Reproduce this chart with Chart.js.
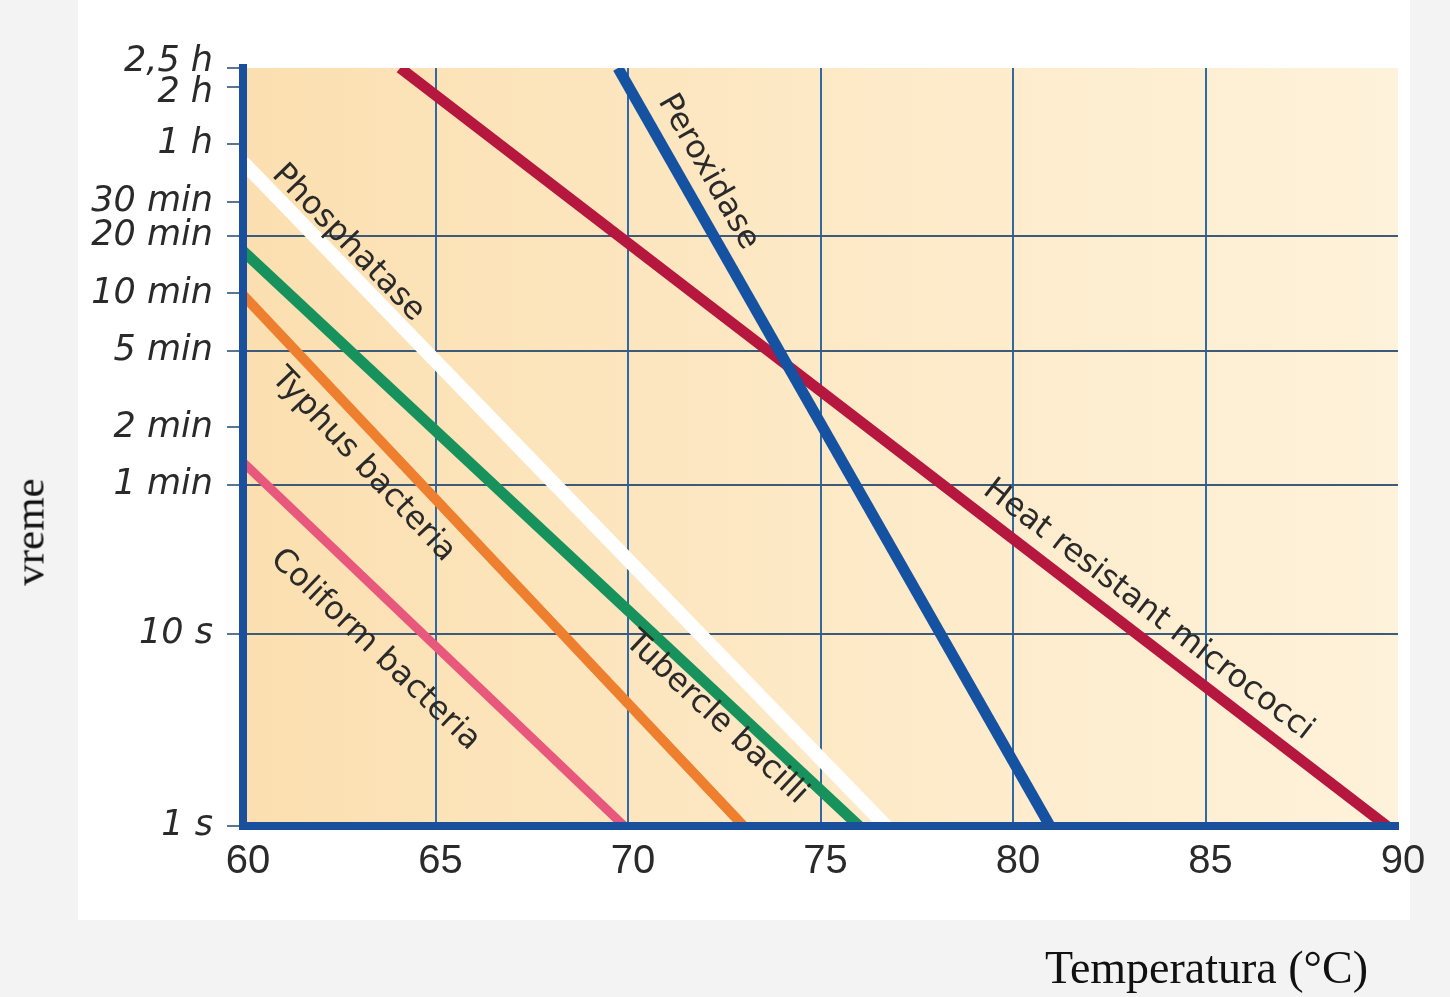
<!DOCTYPE html>
<html><head><meta charset="utf-8">
<script src="https://cdn.jsdelivr.net/npm/chart.js@4.4.0/dist/chart.umd.min.js"></script>
<style>
html,body{margin:0;padding:0;background:#f3f3f3;}
#wrap{position:relative;width:1450px;height:997px;overflow:hidden;}
#panel{position:absolute;left:78px;top:0;width:1332px;height:920px;background:#ffffff;}
#c{position:absolute;left:0;top:0;}
.title{position:absolute;font-family:"Liberation Serif","DejaVu Serif",serif;color:#111;white-space:nowrap;line-height:1;}
#yt{left:29px;top:532px;font-size:43px;transform:translate(-50%,-50%) rotate(-90deg);}
#xt{left:1045px;top:945px;font-size:46px;}
</style></head><body>
<div id="wrap">
<div id="panel"></div>
<canvas id="c" width="1450" height="997"></canvas>
<div class="title" id="yt">vreme</div>
<div class="title" id="xt">Temperatura (°C)</div>
</div>
<script>
// ---- data ----
const tempMin = 60, tempMax = 90, tempStep = 5;
const timeTickValues = [9000, 7200, 3600, 1800, 1200, 600, 300, 120, 60, 10, 1];
const timeTickLabels = ['2,5 h', '2 h', '1 h', '30 min', '20 min', '10 min', '5 min', '2 min', '1 min', '10 s', '1 s'];
const gridTimes = [1200, 300, 60, 10];

const seriesNames = ['Coliform bacteria', 'Typhus bacteria', 'Tubercle bacilli', 'Phosphatase', 'Peroxidase', 'Heat resistant micrococci'];
const coliformTemp = [60, 69.9];   const coliformTime = [79, 1];
const typhusTemp = [60, 73.0];     const typhusTime = [590, 1];
const tubercleTemp = [60, 76.0];   const tubercleTime = [1000, 1];
const phosphataseTemp = [60, 76.7]; const phosphataseTime = [2900, 1];
const peroxidaseTemp = [69.74, 80.96]; const peroxidaseTime = [9000, 1];
const microTemp = [64.08, 89.71];  const microTime = [9000, 1];

// label anchor points (centre of each label, in data units)
const labelTemp = [63.43, 63.12, 72.29, 62.73, 72.08, 83.51];
const labelTime = [8.28, 76.4, 3.66, 1099, 2580, 13.4];

const seriesTemps = [coliformTemp, typhusTemp, tubercleTemp, phosphataseTemp, peroxidaseTemp, microTemp];
const seriesTimes = [coliformTime, typhusTime, tubercleTime, phosphataseTime, peroxidaseTime, microTime];
const seriesColors = ['#e8577c', '#ee7f2e', '#17925c', '#ffffff', '#1652a2', '#b5173f'];
const seriesWidths = [9, 10, 11, 14, 11, 11];

const datasets = seriesNames.map((n, i) => ({
  label: n,
  data: seriesTemps[i].map((t, j) => ({x: t, y: seriesTimes[i][j]})),
  borderColor: seriesColors[i],
  borderWidth: seriesWidths[i],
  pointRadius: 0,
  fill: false,
  tension: 0,
  clip: 0,
  borderCapStyle: 'butt'
}));

const bgPlugin = {
  id: 'plotBg',
  beforeDraw(chart) {
    const {ctx, chartArea: a} = chart;
    const g = ctx.createLinearGradient(a.left, 0, a.right, 0);
    g.addColorStop(0, '#fbdfb0');
    g.addColorStop(0.5, '#fde9c6');
    g.addColorStop(1, '#fef2da');
    ctx.save();
    ctx.fillStyle = g;
    ctx.fillRect(a.left, a.top, a.right - a.left, a.bottom - a.top);
    ctx.restore();
  }
};

const labelPlugin = {
  id: 'lineLabels',
  afterDatasetsDraw(chart) {
    const {ctx} = chart;
    const xs = chart.scales.x, ys = chart.scales.y;
    ctx.save();
    ctx.font = '32px "DejaVu Sans", sans-serif';
    ctx.fillStyle = '#2a2a2a';
    ctx.textAlign = 'center';
    ctx.textBaseline = 'middle';
    seriesNames.forEach((n, i) => {
      const x0 = xs.getPixelForValue(seriesTemps[i][0]), y0 = ys.getPixelForValue(seriesTimes[i][0]);
      const x1 = xs.getPixelForValue(seriesTemps[i][1]), y1 = ys.getPixelForValue(seriesTimes[i][1]);
      const ang = Math.atan2(y1 - y0, x1 - x0);
      const px = xs.getPixelForValue(labelTemp[i]), py = ys.getPixelForValue(labelTime[i]);
      ctx.save();
      ctx.translate(px, py);
      ctx.rotate(ang);
      ctx.fillText(n, 0, 0);
      ctx.restore();
    });
    ctx.restore();
  }
};

new Chart(document.getElementById('c'), {
  type: 'line',
  data: {datasets},
  plugins: [bgPlugin, labelPlugin],
  options: {
    responsive: false,
    animation: false,
    events: [],
    layout: {padding: {left: 0, right: 52, top: 68, bottom: 0}},
    plugins: {legend: {display: false}, tooltip: {enabled: false}},
    scales: {
      x: {
        type: 'linear',
        min: tempMin, max: tempMax,
        afterFit(s) { s.height = 171; },
        ticks: {stepSize: tempStep, padding: 12, labelOffset: 5, color: '#2a2a2a',
                font: {family: 'Liberation Sans', size: 40}},
        grid: {
          drawTicks: false,
          lineWidth: 2,
          color: c => (c.tick && (c.tick.value === tempMin || c.tick.value === tempMax)) ? 'rgba(0,0,0,0)' : '#2e6aa3'
        },
        border: {display: true, color: '#1a4f9c', width: 8, z: 1}
      },
      y: {
        type: 'logarithmic',
        min: 1, max: 9000,
        afterFit(s) { s.width = 243; },
        afterBuildTicks(s) { s.ticks = timeTickValues.map(v => ({value: v})); },
        ticks: {
          autoSkip: false,
          padding: 14,
          color: '#2a2a2a',
          font: {family: 'DejaVu Sans', size: 35, style: 'italic', lineHeight: 0.35},
          callback: (v, i) => {
            const k = timeTickValues.indexOf(v);
            if (k < 0) return '';
            if (k === 0) return [timeTickLabels[k], ''];
            if (k === 1) return ['', timeTickLabels[k]];
            return timeTickLabels[k];
          }
        },
        grid: {
          drawTicks: true,
          tickLength: 16,
          tickWidth: 2,
          tickColor: '#5a7592',
          lineWidth: 2,
          color: c => (c.tick && gridTimes.includes(c.tick.value)) ? '#3d5a78' : 'rgba(0,0,0,0)'
        },
        border: {display: true, color: '#1a4f9c', width: 8, z: 1}
      }
    }
  }
});
</script>
</body></html>
